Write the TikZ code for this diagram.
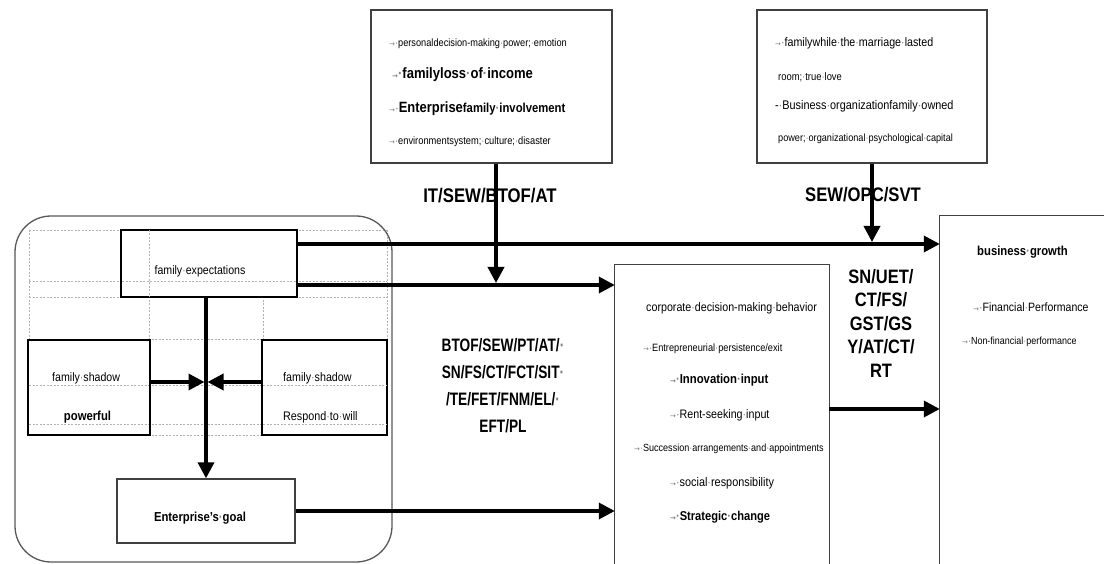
\documentclass[tikz,border=0pt]{standalone}
\usepackage{fontspec}
\setmainfont{Liberation Sans}[FakeStretch=0.87]
\newfontfamily\labA{Liberation Sans}[FakeStretch=0.85]
\newfontfamily\labB{Liberation Sans}[FakeStretch=0.76]
\newfontfamily\arrowf{DejaVu Sans}
\usetikzlibrary{arrows.meta,calc}
\newcommand\fsz[1]{\fontsize{#1}{#1}\selectfont}
\catcode`\·=\active
\def·{{\color{gray}\char"B7}}
\catcode`\→=\active
\def→{{\color{gray}\arrowf\fontsize{7}{7}\selectfont\char"2192}}
\begin{document}
\begin{tikzpicture}[x=1pt,y=-1pt,
  thinbox/.style={draw=black!75, line width=1.3pt, inner sep=0pt},
  thickbox/.style={draw=black, line width=2.6pt, inner sep=0pt},
  conn/.style={line width=3.5pt, -{Triangle[length=16pt,width=16pt]}},
  gridln/.style={draw=black!30, line width=0.5pt, dash pattern=on 2pt off 1.5pt},
  txt/.style={inner sep=0pt, anchor=west},
  ctxt/.style={inner sep=0pt, anchor=center}]
\useasboundingbox (0,0) rectangle (1104,564);
\fill[white] (0,0) rectangle (1104,564);

% grid lines of the left group
\foreach \yy in {230,281,297,339,385,424,435} \draw[gridln] (29,\yy) -- (387,\yy);
\foreach \xx in {29,149,263,387} \draw[gridln] (\xx,230) -- (\xx,435);
\draw[gridln] (122,424) -- (122,435);
\draw[gridln] (297,424) -- (297,435);

% boxes
\node[thinbox, minimum width=241pt, minimum height=153pt] (topA) at (491.5,86.5) {};
\node[thinbox, minimum width=230pt, minimum height=153pt] (topB) at (872,86.5) {};
\node[draw=black!65, line width=1.3pt, rounded corners=36pt, minimum width=377pt, minimum height=346pt, inner sep=0pt] (group) at (203.5,389) {};
\node[thickbox, fill=white, minimum width=176pt, minimum height=67pt] (famexp) at (209,263.5) {};
\node[thickbox, fill=white, minimum width=122pt, minimum height=95pt] (shL) at (89,387.5) {};
\node[thickbox, fill=white, minimum width=125pt, minimum height=95pt] (shR) at (324.5,387.5) {};
\node[thinbox, fill=white, minimum width=178pt, minimum height=64pt] (goal) at (206,511) {};
\node[inner sep=0pt, minimum width=214pt, minimum height=299pt] (corp) at (722,414.5) {};
\draw[thinbox] (corp.south west) |- (corp.north east) -- (corp.south east);
\node[inner sep=0pt, minimum width=164pt, minimum height=348pt] (growth) at (1022,390) {};
\draw[thinbox] (growth.south west) |- (growth.north east);

% grid lines inside the boxes
\draw[gridln] (29,385) -- (149,385);
\draw[gridln] (263,385) -- (387,385);
\draw[gridln] (29,424) -- (149,424);
\draw[gridln] (263,424) -- (387,424);
\draw[gridln] (122,281) -- (297,281);
\draw[gridln] (149,230) -- (149,297);

% texts, top boxes
\node[txt, font=\fsz{10.6}] (tA1) at (389,44) {→·personaldecision-making·power;·emotion};
\node[txt, font=\fsz{15}\bfseries] (tA2) at (392,75) {→·familyloss·of·income};
\node[txt, font=\fsz{13}] (tA3) at (389,109) {→·{\fsz{14.9}\bfseries Enterprise}{\fsz{13}\bfseries family·involvement}};
\node[txt, font=\fsz{10.7}] (tA4) at (389,142) {→·environmentsystem;·culture;·disaster};

\node[txt, font=\fsz{12.3}] (tB1) at (775,43) {→·familywhile·the·marriage·lasted};
\node[txt, font=\fsz{10.8}] (tB2) at (778,77) {room;·true·love};
\node[txt, font=\fsz{12.5}] (tB3) at (775,106) {-·Business·organizationfamily·owned};
\node[txt, font=\fsz{10.5}] (tB4) at (778,139) {power;·organizational·psychological·capital};

% corporate box
\node[txt, font=\fsz{12.3}] (c1) at (646,308) {corporate·decision-making·behavior};
\node[txt, font=\fsz{10.6}] (c2) at (643,349) {→·Entrepreneurial·persistence/exit};
\node[txt, font=\fsz{13}\bfseries] (c3) at (670,380) {→·Innovation·input};
\node[txt, font=\fsz{12.3}] (c4) at (670,415) {→·Rent-seeking·input};
\node[txt, font=\fsz{10.4}] (c5) at (634,449) {→·Succession·arrangements·and·appointments};
\node[txt, font=\fsz{12.5}] (c6) at (670,483) {→·social·responsibility};
\node[txt, font=\fsz{12.8}\bfseries] (c7) at (670,517) {→·Strategic·change};

% business growth
\node[txt, font=\fsz{13}\bfseries] (g1) at (977,252) {business·growth};
\node[txt, font=\fsz{12.1}] (g2) at (973,307) {→·Financial·Performance};
\node[txt, font=\fsz{10.3}] (g3) at (962,342) {→·Non-financial·performance};

% left group
\node[ctxt, font=\fsz{12.2}] (fe) at (200,271) {family·expectations};
\node[txt, font=\fsz{12.2}] (sL1) at (52,378) {family·shadow};
\node[ctxt, font=\fsz{13}\bfseries] (sL2) at (87.5,417) {powerful};
\node[txt, font=\fsz{12.3}] (sR1) at (283,378) {family·shadow};
\node[txt, font=\fsz{12.4}] (sR2) at (283,417) {Respond·to·will};
\node[ctxt, font=\fsz{13}\bfseries] (gt) at (200,518) {Enterprise's·goal};

% theory labels
\node[ctxt, font=\labA\fsz{19.7}\bfseries] (lab1) at (490,196) {IT/SEW/BTOF/AT};
\node[ctxt, font=\labA\fsz{19.6}\bfseries] (lab2) at (863,195) {SEW/OPC/SVT};
\node[ctxt, align=center, font=\labA\fontsize{19.4}{23.5}\selectfont\bfseries] (lab3) at (881,323) {SN/UET/\\CT/FS/\\GST/GS\\Y/AT/CT/\\RT};
\node[ctxt, align=center, font=\labB\fontsize{18}{27}\selectfont\bfseries] (lab4) at (503,386) {BTOF/SEW/PT/AT/·\\SN/FS/CT/FCT/SIT·\\/TE/FET/FNM/EL/·\\EFT/PL};

% connectors
\coordinate (e1) at ([yshift=19.5pt]famexp.east);
\coordinate (e2) at ([yshift=-21.5pt]famexp.east);
\coordinate (e3) at ([yshift=5.5pt]corp.east);
\coordinate (j1) at (496,283);
\coordinate (j2) at (872,242);
\coordinate (c0) at (206,382);
\draw[conn] (e1) -- (e1 -| growth.west);
\draw[conn] (e2) -- (e2 -| corp.west);
\draw[conn] (goal.east) -- (goal.east -| corp.west);
\draw[conn] (e3) -- (e3 -| growth.west);
\draw[conn] (topA.south -| j1) -- (j1);
\draw[conn] (topB.south -| j2) -- (j2);
\draw[conn] (famexp.south -| goal.north) -- (goal.north);
\draw[conn] (shL.east |- c0) -- ([xshift=-1.5pt]c0);
\draw[conn] (shR.west |- c0) -- ([xshift=1.5pt]c0);
\end{tikzpicture}
\end{document}
